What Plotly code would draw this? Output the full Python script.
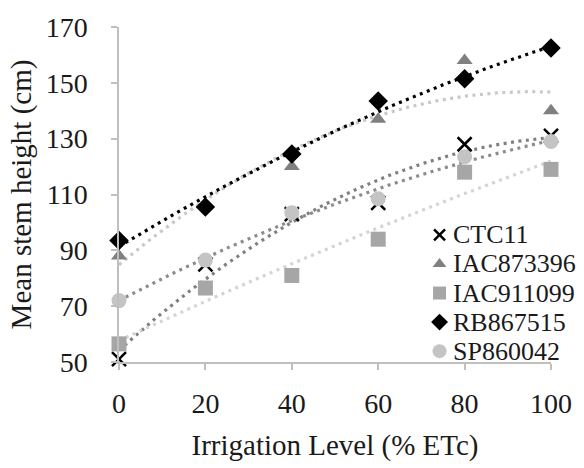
import numpy as np
import plotly.graph_objects as go

irrigation = [0, 20, 40, 60, 80, 100]
ctc11 = [51, 85, 103, 107, 128, 131]
iac873396 = [88, 106, 120, 137, 158, 140]
iac911099 = [56.5, 76.5, 81, 94, 118, 119]
rb867515 = [93.5, 105.5, 124.5, 143.5, 151.5, 162.5]
sp860042 = [72, 86.5, 103.5, 108.5, 123.5, 129]

names = ["CTC11", "IAC873396", "IAC911099", "RB867515", "SP860042"]
series = [ctc11, iac873396, iac911099, rb867515, sp860042]
symbols = ["x-thin", "triangle-up", "square", "diamond", "circle"]
marker_colors = ["#000000", "#808080", "#a6a6a6", "#000000", "#c4c4c4"]
marker_sizes = [14, 14, 15, 15, 15]
legend_sizes = [11, 12, 13, 13, 14]
trend_colors = ["#808080", "#c8c8c8", "#d4d4d4", "#000000", "#8c8c8c"]

FONT = "Times New Roman, Liberation Serif, Times, serif"
TXT = "#1a1a1a"
fig = go.Figure()

xs = np.linspace(0, 100, 201)
for name, ys, tc in zip(names, series, trend_colors):
    coef = np.polyfit(irrigation, ys, 2)
    fig.add_trace(go.Scatter(
        x=xs, y=np.polyval(coef, xs), mode="lines",
        line=dict(color=tc, width=3.2, dash="3px,4.5px"),
        showlegend=False, hoverinfo="skip", cliponaxis=False))


def mk(sym, size, color):
    if sym == "x-thin":
        return dict(symbol=sym, size=size, color=color, line=dict(color=color, width=2.5))
    return dict(symbol=sym, size=size, color=color, line=dict(width=0))


for name, ys, sym, mc, ms in zip(names, series, symbols, marker_colors, marker_sizes):
    fig.add_trace(go.Scatter(
        x=irrigation, y=ys, mode="markers", name=name,
        marker=mk(sym, ms, mc), cliponaxis=False, showlegend=False))

# Manual legend on an overlay axis measured in pixels of the plot area
leg_x_marker = 444
leg_x_text = 456
leg_y0 = 233
leg_dy = 29.5
for i, (name, sym, mc, ls) in enumerate(zip(names, symbols, marker_colors, legend_sizes)):
    yy = leg_y0 + i * leg_dy
    fig.add_trace(go.Scatter(
        x=[leg_x_marker], y=[yy], mode="markers", xaxis="x2", yaxis="y2",
        marker=mk(sym, ls, mc), showlegend=False, hoverinfo="skip", cliponaxis=False))
    fig.add_annotation(x=leg_x_text, y=yy, xref="x2", yref="y2", text=name,
                       showarrow=False, xanchor="left", yanchor="middle",
                       font=dict(family=FONT, size=26, color=TXT))

axis_common = dict(
    showgrid=False, zeroline=False, showline=True,
    linecolor="#bfbfbf", linewidth=1.5,
    ticks="outside", tickcolor="#bfbfbf", ticklen=6, tickwidth=1.5,
    tickfont=dict(family=FONT, size=28, color=TXT),
)

fig.update_layout(
    width=584, height=468,
    margin=dict(l=119, r=27, t=22, b=106),
    paper_bgcolor="white", plot_bgcolor="white",
    font=dict(family=FONT, color=TXT),
    xaxis=dict(range=[0, 100], tickvals=irrigation, ticklabelstandoff=10,
               title=dict(text="Irrigation Level (% ETc)",
                          font=dict(family=FONT, size=29, color=TXT),
                          standoff=16),
               **axis_common),
    yaxis=dict(range=[50, 170], tickvals=[50, 70, 90, 110, 130, 150, 170],
               ticklabelstandoff=18,
               title=dict(text="Mean stem height (cm)",
                          font=dict(family=FONT, size=29, color=TXT),
                          standoff=6),
               **axis_common),
    xaxis2=dict(range=[119, 557], overlaying="x", visible=False, fixedrange=True),
    yaxis2=dict(range=[362, 22], overlaying="y", visible=False, fixedrange=True),
    showlegend=False,
)

fig.write_html("out.html")
